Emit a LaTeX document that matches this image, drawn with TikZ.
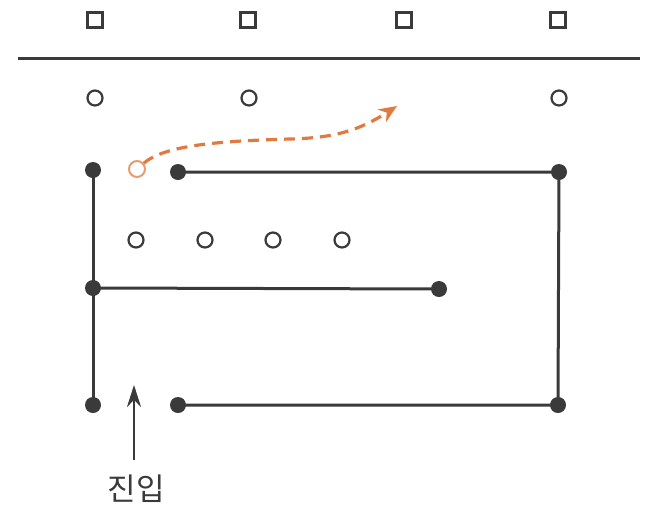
\documentclass[tikz,border=0pt]{standalone}
\usepackage{fontspec}
\newfontfamily\kor{Noto Sans CJK KR}
\usetikzlibrary{arrows.meta}
\definecolor{ink}{HTML}{3A3A3A}
\definecolor{orng}{HTML}{E07A40}
\begin{document}
\begin{tikzpicture}[x=1pt,y=-1pt,
  sq/.style={draw=ink,line width=2.2pt,minimum size=15pt,inner sep=0pt},
  hol/.style={circle,draw=ink,line width=2.2pt,minimum size=15pt,inner sep=0pt},
  ohol/.style={circle,draw=orng!75,line width=2pt,minimum size=16pt,inner sep=0pt},
  dot/.style={circle,fill=ink,minimum size=16pt,inner sep=0pt},
  wire/.style={draw=ink,line width=3pt}]
\useasboundingbox (0,0) rectangle (648,515);
% squares
\node[sq] (s1) at (95,20) {};
\node[sq] (s2) at (248,20) {};
\node[sq] (s3) at (404,20) {};
\node[sq] (s4) at (558,20) {};
% divider
\coordinate (la) at (18,58);
\coordinate (lb) at (640,58);
\draw[ink,line width=3pt] (la) -- (lb);
% top circles
\node[hol] (t1) at (95,98) {};
\node[hol] (t2) at (249,98) {};
\node[hol] (t3) at (559,98) {};
% middle circles
\node[hol] (m1) at (136,240) {};
\node[hol] (m2) at (205,240) {};
\node[hol] (m3) at (273,240) {};
\node[hol] (m4) at (342,240) {};
% dots
\node[dot] (d1) at (93,170) {};
\node[dot] (d2) at (178,172) {};
\node[dot] (d3) at (559,172) {};
\node[dot] (d4) at (93,288) {};
\node[dot] (d5) at (439,289) {};
\node[dot] (d6) at (93,405) {};
\node[dot] (d7) at (178,405) {};
\node[dot] (d8) at (558,405) {};
% wires
\draw[wire] (d1.center) -- (d4.center) -- (d6.center);
\draw[wire] (d4.center) -- (d5.center);
\draw[wire] (d2.center) -- (d3.center) -- (d8.center) -- (d7.center);
% orange
\node[ohol] (o1) at (137,169) {};
\coordinate (otip) at (397,106);
\draw[orng,line width=3.2pt,dash pattern=on 11pt off 7pt,-{Stealth[length=18pt,width=15pt]}]
  (o1) .. controls (165,145) and (220,141) .. (290,139) .. controls (335,138) and (360,130) .. (otip);
% entry arrow
\coordinate (ea) at (134,460);
\coordinate (eb) at (134,385);
\draw[ink,line width=2.6pt,-{Stealth[length=22pt,width=14pt]}] (ea) -- (eb);
\node[text=ink,font=\kor\fontsize{31pt}{34pt}\selectfont] (lbl) at (136,489) {진입};
\end{tikzpicture}
\end{document}
